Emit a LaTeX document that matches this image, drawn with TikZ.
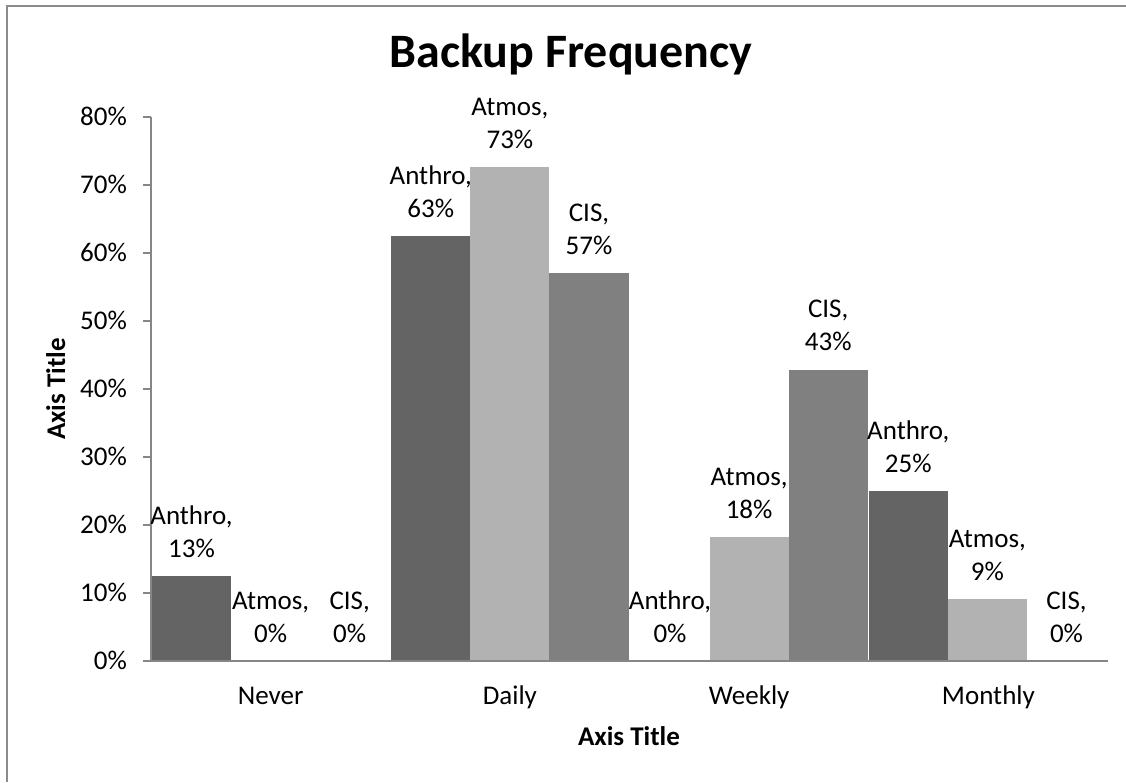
\documentclass[tikz,border=0pt]{standalone}
\usepackage{fontspec}
\setmainfont{Carlito}
\begin{document}
\begin{tikzpicture}[x=1pt,y=-1pt,
  lbl/.style={font=\fontsize{27}{33}\selectfont, inner sep=0pt, align=center},
  tick/.style={font=\fontsize{27}{32}\selectfont, inner sep=0pt},
  axt/.style={font=\fontsize{27}{32}\selectfont\bfseries, inner sep=0pt},
  axisline/.style={draw=axgray, line width=2.6pt},
  bA/.style={fill=cA, draw=none},
  bB/.style={fill=cB, draw=none},
  bC/.style={fill=cC, draw=none}]
\definecolor{axgray}{HTML}{868686}
\definecolor{bordgray}{HTML}{8C8C8C}
\definecolor{cA}{HTML}{646464}
\definecolor{cB}{HTML}{B2B2B2}
\definecolor{cC}{HTML}{808080}
\useasboundingbox (0,0) rectangle (1126,782);
% outer border (left and top visible)
\coordinate (bl) at (7,782);
\coordinate (tl) at (7,5.5);
\coordinate (tr) at (1126,5.5);
\draw[bordgray, line width=2pt] (bl) -- (tl) -- (tr);
% title
\node[font=\fontsize{48}{56}\selectfont\bfseries, inner sep=0pt, anchor=base] (title) at (571,67.5) {Backup Frequency};
% bars: y(v) = 661 - 6.8 v ; category start 151 + 239.25 i ; bar width 79.1
% Never
\fill[bA] (152,661) rectangle (231.1,576);
% Daily
\fill[bA] (391.25,661) rectangle (470.35,236);
\fill[bB] (470.35,661) rectangle (549.45,166.6);
\fill[bC] (549.45,661) rectangle (628.55,272.6);
% Weekly
\fill[bB] (709.6,661) rectangle (788.7,537.4);
\fill[bC] (788.7,661) rectangle (867.8,369.6);
% Monthly
\fill[bA] (868.75,661) rectangle (947.85,491);
\fill[bB] (947.85,661) rectangle (1026.95,599.2);
% axes
\coordinate (o) at (151,661);
\coordinate (ytop) at (151,117);
\coordinate (xend) at (1108,661);
\draw[axisline] (ytop) -- (o) -- (xend);
\foreach \v/\t in {0/0\%,10/10\%,20/20\%,30/30\%,40/40\%,50/50\%,60/60\%,70/70\%,80/80\%}{
  \coordinate (tk\v) at (143,{661-6.8*\v});
  \draw[axgray, line width=2pt] (tk\v) -- ++(8,0);
  \node[tick, anchor=base east] (yl\v) at (127,{661-6.8*\v+8.5}) {\t};
}
% category labels
\node[tick, anchor=base] (cNever) at (270.6,704) {Never};
\node[tick, anchor=base] (cDaily) at (509.9,704) {Daily};
\node[tick, anchor=base] (cWeekly) at (749.1,704) {Weekly};
\node[tick, anchor=base] (cMonthly) at (988.4,704) {Monthly};
% axis titles
\node[axt, anchor=base] (xtitle) at (629,745) {Axis Title};
\node[axt, anchor=base, rotate=90] (ytitle) at (65,389) {Axis Title};
% data labels (baseline of last line at bar top - 19)
\node[lbl, anchor=base] (l1) at (191.5,557) {Anthro,\\13\%};
\node[lbl, anchor=base] (l2) at (270.6,642) {Atmos,\\0\%};
\node[lbl, anchor=base] (l3) at (349.7,642) {CIS,\\0\%};
\node[lbl, anchor=base] (l4) at (430.8,217) {Anthro,\\63\%};
\node[lbl, anchor=base] (l5) at (509.9,148) {Atmos,\\73\%};
\node[lbl, anchor=base] (l6) at (589,254) {CIS,\\57\%};
\node[lbl, anchor=base] (l7) at (670,642) {Anthro,\\0\%};
\node[lbl, anchor=base] (l8) at (749.1,518.4) {Atmos,\\18\%};
\node[lbl, anchor=base] (l9) at (828.2,350.6) {CIS,\\43\%};
\node[lbl, anchor=base] (l10) at (908.3,472) {Anthro,\\25\%};
\node[lbl, anchor=base] (l11) at (987.4,580.2) {Atmos,\\9\%};
\node[lbl, anchor=base] (l12) at (1066.5,642) {CIS,\\0\%};
\end{tikzpicture}
\end{document}
